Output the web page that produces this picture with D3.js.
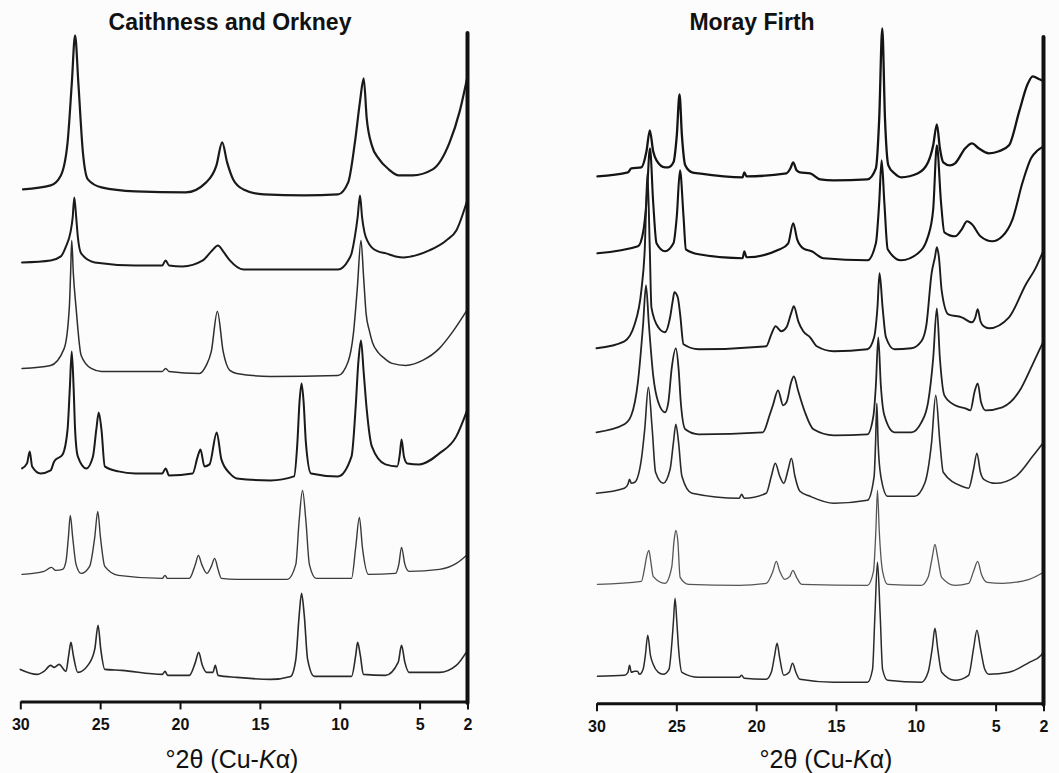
<!DOCTYPE html>
<html>
<head>
<meta charset="utf-8">
<script src="https://cdn.jsdelivr.net/npm/d3@7"></script>
<style>
  html, body { margin: 0; padding: 0; background: #fcfcfc; }
  svg { display: block; }
  text { font-family: "Liberation Sans", Arial, Helvetica, sans-serif; fill: #111; }
</style>
</head>
<body>
<svg id="chart" width="1059" height="773"></svg>
<script>
// ---- Axis ticks (degrees 2-theta, Cu K-alpha) ----
const tickValues = [30, 25, 20, 15, 10, 5, 2];

// ---- Caithness and Orkney: diffractograms, top to bottom ----
// each point: [°2θ, intensity relative to the trace's own baseline]
const caithness1 = [[29.83,0],[28.10,4],[27.46,14],[27.04,47],[26.78,105],[26.57,154],[26.36,105],[26.08,37],[25.77,10],[24.92,2],[22.80,-2],[19.63,-3],[18.36,7],[17.72,24],[17.36,47],[17.05,27],[16.67,10],[16.03,0],[14.76,-5],[12.22,-6],[10.11,-5],[9.47,7],[9.05,47],[8.73,88],[8.50,111],[8.31,71],[7.99,44],[7.57,31],[6.93,20],[6.30,14],[5.45,14],[4.18,20],[3.12,47],[2.49,78],[2.0,113]];
const caithness2 = [[29.89,0],[28.10,2],[27.46,6],[27.14,16],[26.86,30],[26.72,45],[26.62,65],[26.50,45],[26.40,26],[26.19,9],[25.34,0],[22.80,-3],[21.11,-3],[20.90,2],[20.69,-3],[19.84,-4],[18.57,2],[18.04,11],[17.62,17],[17.30,11],[16.88,2],[16.03,-7],[10.11,-7],[9.47,2],[9.26,9],[9.05,26],[8.88,45],[8.73,67],[8.60,45],[8.45,30],[8.25,21],[8.00,15],[7.60,11],[7.10,9],[6.50,6],[6.00,5],[5.24,7],[4.39,12],[3.33,22],[2.70,32],[2.0,63]];
const caithness3 = [[29.89,0],[28.10,3],[27.25,20],[26.93,61],[26.85,95],[26.78,128],[26.68,95],[26.51,61],[26.19,13],[25.56,0],[24.92,-3],[21.11,-3],[20.90,0],[20.69,-3],[18.78,-5],[18.36,3],[18.04,17],[17.66,57],[17.30,17],[16.88,-2],[16.45,-5],[14.34,-8],[10.11,-7],[9.47,7],[9.15,34],[8.90,80],[8.67,128],[8.50,90],[8.35,55],[8.15,38],[7.95,26],[7.60,16],[7.20,10],[6.72,5],[5.87,3],[4.81,8],[3.76,20],[2.91,37],[2.0,59]];
const caithness4 = [[29.89,0],[29.58,5],[29.41,17],[29.26,2],[28.73,-5],[28.10,-2],[27.88,7],[27.35,14],[27.04,39],[26.90,80],[26.78,117],[26.66,80],[26.57,39],[26.40,12],[25.87,0],[25.45,12],[25.24,39],[25.09,56],[24.92,39],[24.71,2],[23.86,-3],[22.80,-5],[21.11,-5],[20.90,0],[20.69,-7],[19.21,-5],[18.89,12],[18.72,19],[18.47,2],[18.15,4],[17.70,36],[17.41,9],[16.88,-5],[16.45,-10],[14.34,-12],[12.86,-8],[12.65,26],[12.52,66],[12.39,85],[12.26,66],[12.12,26],[11.80,-5],[10.11,-8],[9.26,12],[9.00,62],[8.84,105],[8.67,128],[8.50,96],[8.31,59],[7.99,22],[7.14,4],[6.40,2],[6.23,15],[6.13,29],[5.98,12],[5.77,5],[5.03,4],[3.76,15],[2.70,32],[2.0,59]];
const caithness5 = [[29.89,0],[28.52,3],[28.05,7],[27.78,4],[27.35,5],[27.14,13],[26.99,37],[26.87,59],[26.72,37],[26.51,10],[26.19,1],[25.66,8],[25.34,37],[25.15,63],[24.98,37],[24.71,8],[23.86,-1],[21.11,-4],[20.94,-1],[20.79,-4],[19.42,-4],[19.04,10],[18.85,19],[18.64,10],[18.32,1],[18.04,8],[17.83,16],[17.62,5],[17.41,-4],[16.45,-5],[13.28,-5],[12.75,10],[12.54,54],[12.33,84],[12.12,54],[11.90,10],[11.48,-4],[9.26,-4],[9.00,27],[8.77,57],[8.58,27],[8.20,0],[6.51,1],[6.30,10],[6.13,27],[5.92,10],[5.66,3],[3.76,5],[2.70,11],[2.0,20]];
const caithness6 = [[30.0,2],[28.94,-3],[28.52,0],[28.10,6],[27.88,4],[27.57,7],[27.14,0],[26.97,16],[26.83,29],[26.68,16],[26.40,-1],[25.77,6],[25.34,22],[25.13,46],[24.96,22],[24.71,2],[23.65,1],[21.11,-3],[20.94,0],[20.77,-4],[19.42,-4],[19.04,9],[18.83,19],[18.62,7],[18.32,-1],[17.94,-1],[17.79,6],[17.62,-4],[16.45,-6],[14.34,-8],[13.07,-5],[12.75,12],[12.54,56],[12.39,78],[12.22,56],[12.01,12],[11.59,-5],[9.26,-5],[9.00,16],[8.88,29],[8.71,16],[8.52,-3],[7.14,-4],[6.34,9],[6.13,26],[5.92,9],[5.66,-1],[3.76,-1],[2.70,6],[2.0,21]];
const caithnessOffsets = [512, 439, 333, 233, 127, 30];

// ---- Moray Firth: diffractograms, top to bottom ----
const moray1 = [[29.94,0],[28.03,4],[27.82,8],[27.19,9],[26.87,25],[26.66,46],[26.45,25],[26.24,16],[25.71,9],[25.50,9],[25.18,14],[24.97,41],[24.80,82],[24.65,41],[24.44,11],[24.02,4],[23.60,3],[20.85,-1],[20.74,4],[20.60,0],[18.10,3],[17.85,8],[17.68,14],[17.47,6],[17.26,4],[16.62,3],[15.99,-3],[15.14,-4],[13.03,-3],[12.50,8],[12.29,58],[12.10,148],[11.93,58],[11.72,11],[11.34,3],[10.92,-1],[9.86,3],[9.23,14],[8.91,31],[8.68,52],[8.49,28],[8.28,14],[7.86,11],[7.54,13],[6.90,28],[6.48,33],[6.06,28],[5.42,23],[4.79,25],[4.16,31],[3.52,65],[3.00,92],[2.68,100],[2.25,97],[2.0,95]];
const moray2 = [[29.94,0],[27.40,7],[27.08,21],[26.87,51],[26.65,105],[26.45,51],[26.24,10],[25.71,2],[25.18,10],[24.97,37],[24.77,83],[24.55,37],[24.40,4],[23.60,-1],[20.85,-5],[20.74,2],[20.60,-4],[18.52,4],[17.99,10],[17.68,30],[17.43,14],[17.05,5],[16.52,2],[15.78,-5],[13.03,-7],[12.50,10],[12.29,51],[12.14,93],[11.97,51],[11.76,4],[10.92,-7],[9.86,0],[9.23,17],[8.91,44],[8.68,108],[8.42,51],[8.21,21],[7.54,17],[7.12,24],[6.79,32],[6.48,29],[5.95,17],[5.21,12],[4.58,17],[3.94,34],[3.31,71],[2.78,95],[2.36,103],[2.0,107]];
const moray3 = [[30.0,0],[28.25,7],[27.61,24],[27.19,58],[26.98,98],[26.81,175],[26.66,98],[26.56,41],[26.13,21],[25.71,16],[25.39,31],[25.22,48],[25.12,56],[24.91,51],[24.76,34],[24.55,4],[23.60,-1],[19.37,2],[19.05,14],[18.78,22],[18.42,17],[18.10,21],[17.79,36],[17.64,42],[17.36,27],[17.05,17],[16.62,11],[16.20,2],[15.14,-3],[13.03,-1],[12.61,11],[12.40,41],[12.27,75],[12.08,41],[11.87,11],[11.34,-1],[10.28,0],[9.65,7],[9.33,24],[9.01,75],[8.80,91],[8.68,101],[8.55,91],[8.38,58],[7.96,34],[7.12,31],[6.48,26],[6.27,31],[6.12,39],[5.95,27],[5.74,22],[5.42,20],[4.16,31],[3.10,64],[2.47,81],[2.0,98]];
const moray4 = [[30.0,0],[28.25,8],[27.82,17],[27.40,51],[27.08,108],[26.90,147],[26.72,108],[26.45,57],[26.13,30],[25.71,20],[25.50,30],[25.29,64],[25.03,84],[24.86,64],[24.72,30],[24.44,3],[23.60,-2],[19.58,0],[19.16,17],[18.95,27],[18.63,42],[18.31,27],[18.10,30],[17.79,51],[17.64,56],[17.36,41],[16.94,20],[16.41,3],[15.14,-3],[13.03,-2],[12.65,17],[12.50,47],[12.35,95],[12.19,47],[11.97,17],[11.34,0],[10.28,0],[9.65,10],[9.23,30],[8.91,74],[8.68,124],[8.49,74],[8.21,37],[7.54,27],[6.90,24],[6.58,22],[6.31,41],[6.12,49],[5.91,30],[5.63,22],[4.58,25],[3.52,41],[2.68,68],[2.0,91]];
const moray5 = [[30.0,0],[28.25,5],[28.03,9],[27.93,14],[27.82,10],[27.61,11],[27.19,34],[26.98,64],[26.75,106],[26.51,64],[26.30,21],[25.82,10],[25.39,24],[25.18,51],[25.03,69],[24.86,51],[24.65,17],[24.02,0],[21.06,-5],[20.91,-1],[20.74,-5],[19.37,0],[19.05,17],[18.80,30],[18.52,17],[18.27,10],[17.99,24],[17.79,35],[17.57,17],[17.26,2],[16.62,-3],[15.14,-10],[13.03,-7],[12.61,17],[12.52,50],[12.44,90],[12.36,50],[12.19,17],[11.76,-3],[10.07,-3],[9.44,10],[9.01,51],[8.75,98],[8.49,51],[8.28,21],[7.12,7],[6.69,5],[6.38,24],[6.17,40],[5.95,21],[5.74,14],[5.00,10],[3.73,17],[2.68,37],[2.0,51]];
const moray6 = [[29.94,1],[27.19,4],[26.98,18],[26.87,28],[26.72,35],[26.60,24],[26.45,9],[25.71,2],[25.29,18],[25.14,45],[25.03,55],[24.91,45],[24.76,8],[24.23,1],[21.06,0],[19.37,2],[18.95,14],[18.74,24],[18.52,14],[18.21,6],[17.89,9],[17.70,15],[17.47,8],[17.15,1],[13.03,0],[12.65,14],[12.50,55],[12.40,95],[12.29,55],[12.08,14],[11.76,1],[9.65,0],[9.23,8],[8.97,28],[8.80,41],[8.63,28],[8.38,8],[7.54,0],[6.69,2],[6.38,14],[6.12,24],[5.89,11],[5.53,3],[4.58,2],[2.89,6],[2.0,13]];
const moray7 = [[29.94,0],[28.25,1],[28.03,4],[27.93,11],[27.82,4],[27.61,5],[27.44,5],[27.30,2],[27.08,7],[26.94,21],[26.79,41],[26.62,21],[26.45,12],[26.13,4],[25.82,2],[25.46,7],[25.29,31],[25.18,55],[25.08,78],[24.97,55],[24.86,28],[24.65,4],[23.60,-1],[21.06,-1],[20.91,1],[20.74,-2],[19.37,-3],[19.05,4],[18.84,21],[18.69,33],[18.52,18],[18.27,1],[17.93,4],[17.72,13],[17.51,4],[17.26,-3],[15.14,-6],[13.03,-6],[12.71,7],[12.56,61],[12.40,114],[12.23,61],[12.08,7],[11.76,-4],[9.65,-6],[9.23,4],[8.97,28],[8.80,48],[8.63,28],[8.38,4],[7.54,-4],[6.69,1],[6.38,28],[6.17,46],[5.95,28],[5.68,7],[5.42,2],[4.16,4],[2.89,14],[2.15,21],[2.0,25]];
const morayOffsets = [527, 450, 355, 271, 210, 118, 27];

// ---- Drawing ----
const svg = d3.select("#chart");

const panels = [
  {
    title: "Caithness and Orkney",
    traces: [caithness1, caithness2, caithness3, caithness4, caithness5, caithness6],
    offsets: caithnessOffsets,
    xRange: [20.3, 467.5],
    axisY: 701.4,
    frameTop: 33,
    titleX: 230, titleY: 30,
    labelX: 232, labelY: 768,
    strokes: ["#1a1a1a", "#1a1a1a", "#2e2e2e", "#1a1a1a", "#3a3a3a", "#2a2a2a"],
    widths: [2.2, 2.0, 1.5, 2.0, 1.4, 1.6]
  },
  {
    title: "Moray Firth",
    traces: [moray1, moray2, moray3, moray4, moray5, moray6, moray7],
    offsets: morayOffsets,
    xRange: [596.5, 1043.5],
    axisY: 703.3,
    frameTop: 37,
    titleX: 752, titleY: 30,
    labelX: 826, labelY: 768,
    strokes: ["#141414", "#141414", "#1c1c1c", "#222", "#2a2a2a", "#555", "#2a2a2a"],
    widths: [2.3, 2.1, 1.9, 1.8, 1.6, 1.3, 1.5]
  }
];

panels.forEach(p => {
  const g = svg.append("g");
  const x = d3.scaleLinear().domain([30, 2]).range(p.xRange);
  const y = d3.scaleLinear().domain([0, 680]).range([p.axisY, p.axisY - 680]);

  const line = d3.line()
    .x(d => x(d[0]))
    .y(d => y(d[1]))
    .curve(d3.curveMonotoneX);

  // traces, each lifted by its stacking offset
  p.traces.forEach((pts, i) => {
    const shifted = pts.map(([t, v]) => [t, v + p.offsets[i]]);
    g.append("path")
      .datum(shifted)
      .attr("fill", "none")
      .attr("stroke", p.strokes[i])
      .attr("stroke-width", p.widths[i])
      .attr("stroke-linejoin", "round")
      .attr("stroke-linecap", "round")
      .attr("d", line);
  });

  // bottom axis
  const axis = d3.axisBottom(x)
    .tickValues(tickValues)
    .tickFormat(d3.format("d"))
    .tickSize(8)
    .tickSizeOuter(0)
    .tickPadding(9);
  const ax = g.append("g")
    .attr("transform", `translate(0,${p.axisY})`)
    .call(axis);
  ax.select(".domain").attr("stroke", "#111").attr("stroke-width", 3);
  ax.selectAll(".tick line").attr("stroke", "#111").attr("stroke-width", 2);
  ax.selectAll(".tick text")
    .attr("fill", "#111")
    .style("font-family", "'Liberation Sans', Arial, sans-serif")
    .style("font-size", "16px")
    .style("font-weight", "bold");

  // heavy right-hand frame line at 2°
  g.append("line")
    .attr("x1", x(2)).attr("x2", x(2))
    .attr("y1", p.axisY + 1.5).attr("y2", p.frameTop)
    .attr("stroke", "#111")
    .attr("stroke-width", 4)
    .attr("stroke-linecap", "round");

  // panel title
  g.append("text")
    .attr("x", p.titleX).attr("y", p.titleY)
    .attr("text-anchor", "middle")
    .style("font-size", "23px")
    .style("font-weight", "bold")
    .text(p.title);

  // axis label
  const lab = g.append("text")
    .attr("x", p.labelX).attr("y", p.labelY)
    .attr("text-anchor", "middle")
    .style("font-size", "25px");
  lab.append("tspan").text("°2θ (Cu-");
  lab.append("tspan").style("font-style", "italic").text("K");
  lab.append("tspan").text("α)");
});
</script>
</body>
</html>
